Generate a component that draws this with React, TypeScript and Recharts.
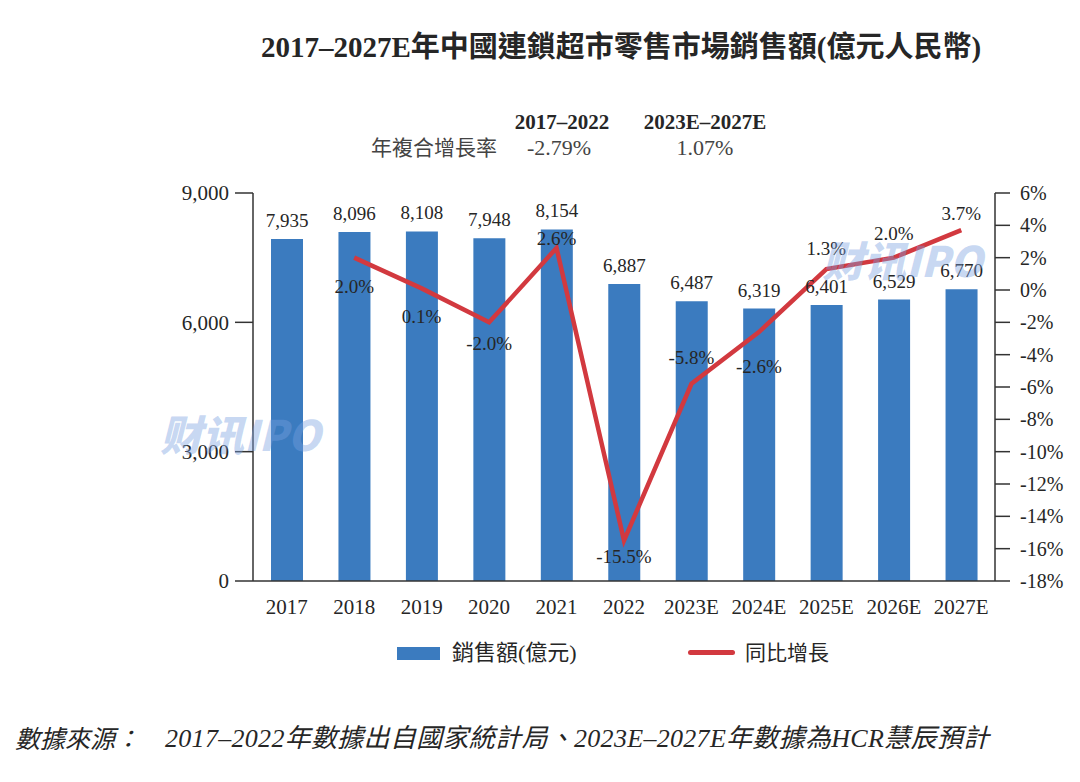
import React from 'react';
import { ComposedChart, Bar, Line, XAxis, YAxis, LabelList } from 'recharts';

const categories = ['2017', '2018', '2019', '2020', '2021', '2022', '2023E', '2024E', '2025E', '2026E', '2027E'];
const sales = [7935, 8096, 8108, 7948, 8154, 6887, 6487, 6319, 6401, 6529, 6770];
const growth: (number | null)[] = [null, 2.0, 0.1, -2.0, 2.6, -15.5, -5.8, -2.6, 1.3, 2.0, 3.7];
const leftTicks = [0, 3000, 6000, 9000];
const rightTicks = [-18, -16, -14, -12, -10, -8, -6, -4, -2, 0, 2, 4, 6];

// label offsets (px) of the growth labels relative to their points (style only)
const growthLabelDy = [0, 29, 28, 21, -9, 16, -26, 34, -20, -24, -17];

const title = '2017–2027E年中國連鎖超市零售市場銷售額(億元人民幣)';
const cagrPeriods = ['2017–2022', '2023E–2027E'];
const cagrLabel = '年複合增長率';
const cagrValues = ['-2.79%', '1.07%'];
const legendBar = '銷售額(億元)';
const legendLine = '同比增長';
const sourceLabel = '數據來源：';
const sourceText = '2017–2022年數據出自國家統計局、2023E–2027E年數據為HCR慧辰預計';
const watermark = '财讯IPO';

const data = categories.map((c, i) => ({ year: c, sales: sales[i], growth: growth[i] }));

const SERIF = "'Liberation Serif', 'Noto Sans CJK TC', serif";
const BAR_COLOR = '#3b7bbf';
const LINE_COLOR = '#d2393f';
const TEXT_COLOR = '#262626';
const AXIS_COLOR = '#333333';

const Abs: React.FC<{ x: number; y: number; size: number; anchor?: 'start' | 'middle'; bold?: boolean; italic?: boolean; children: React.ReactNode; style?: React.CSSProperties }> = ({ x, y, size, anchor = 'start', bold, italic, children, style }) => (
  <div
    style={{
      position: 'absolute',
      left: x,
      top: y - size / 2,
      height: size,
      lineHeight: `${size}px`,
      fontSize: size,
      fontFamily: SERIF,
      fontWeight: bold ? 700 : 400,
      fontStyle: italic ? 'italic' : 'normal',
      color: TEXT_COLOR,
      whiteSpace: 'nowrap',
      transform: anchor === 'middle' ? 'translateX(-50%)' : undefined,
      ...style,
    }}
  >
    {children}
  </div>
);

const GrowthLabel = (props: any) => {
  const { x, y, value, index } = props;
  if (value === null || value === undefined) return null;
  return (
    <text
      x={x}
      y={y + growthLabelDy[index]}
      textAnchor="middle"
      dominantBaseline="central"
      fontFamily={SERIF}
      fontSize={19}
      fill={TEXT_COLOR}
    >
      {`${Number(value).toFixed(1)}%`}
    </text>
  );
};

const wmStyle: React.CSSProperties = {
  position: 'absolute',
  fontFamily: "'Noto Sans CJK SC', sans-serif",
  fontWeight: 900,
  fontStyle: 'italic',
  fontSize: 42,
  color: 'rgba(120,160,225,0.42)',
  pointerEvents: 'none',
  whiteSpace: 'nowrap',
};

export default function App() {
  return (
    <div style={{ position: 'absolute', left: 0, top: 0, width: 1080, height: 782, background: '#fff', overflow: 'hidden' }}>
      <Abs x={621} y={47} size={29} anchor="middle" bold>{title}</Abs>

      <Abs x={562} y={122} size={21} anchor="middle" bold>{cagrPeriods[0]}</Abs>
      <Abs x={705} y={122} size={21} anchor="middle" bold>{cagrPeriods[1]}</Abs>
      <Abs x={434} y={148} size={21} anchor="middle" style={{ color: '#444' }}>{cagrLabel}</Abs>
      <Abs x={559} y={148} size={22} anchor="middle" style={{ color: '#444' }}>{cagrValues[0]}</Abs>
      <Abs x={705} y={148} size={22} anchor="middle" style={{ color: '#444' }}>{cagrValues[1]}</Abs>

      <div style={{ position: 'absolute', left: 0, top: 0 }}>
        <ComposedChart
          width={1080}
          height={782}
          data={data}
          margin={{ top: 193, bottom: 161, left: 183, right: 15 }}
          barCategoryGap="26%"
        >
          <XAxis
            dataKey="year"
            height={40}
            axisLine={{ stroke: AXIS_COLOR, strokeWidth: 1.5 }}
            tickLine={false}
            tickMargin={12}
            interval={0}
            tick={{ fontFamily: SERIF, fontSize: 21, fill: TEXT_COLOR }}
          />
          <YAxis
            yAxisId="left"
            orientation="left"
            width={70}
            domain={[0, 9000]}
            ticks={leftTicks}
            tickFormatter={(v: number) => v.toLocaleString('en-US')}
            axisLine={{ stroke: AXIS_COLOR, strokeWidth: 1.5 }}
            tickLine={{ stroke: AXIS_COLOR, strokeWidth: 1.5 }}
            tickSize={18}
            tickMargin={6}
            tick={{ fontFamily: SERIF, fontSize: 21, fill: TEXT_COLOR }}
          />
          <YAxis
            yAxisId="right"
            orientation="right"
            width={70}
            domain={[-18, 6]}
            ticks={rightTicks}
            tickFormatter={(v: number) => `${v}%`}
            axisLine={{ stroke: AXIS_COLOR, strokeWidth: 1.5 }}
            tickLine={{ stroke: AXIS_COLOR, strokeWidth: 1.5 }}
            tickSize={15}
            tickMargin={10}
            tick={{ fontFamily: SERIF, fontSize: 20, fill: TEXT_COLOR }}
          />
          <Bar yAxisId="left" dataKey="sales" fill={BAR_COLOR} barSize={32} isAnimationActive={false}>
            <LabelList
              dataKey="sales"
              position="top"
              offset={12}
              formatter={(v: any) => Number(v).toLocaleString('en-US')}
              style={{ fontFamily: SERIF, fontSize: 19, fill: TEXT_COLOR }}
            />
          </Bar>
          <Line
            yAxisId="right"
            dataKey="growth"
            stroke={LINE_COLOR}
            strokeWidth={4.5}
            dot={false}
            activeDot={false}
            connectNulls={false}
            isAnimationActive={false}
          >
            <LabelList dataKey="growth" content={GrowthLabel} />
          </Line>
        </ComposedChart>
      </div>

      <div style={{ ...wmStyle, left: 160, top: 402 }}>{watermark}</div>
      <div style={{ ...wmStyle, left: 822, top: 228 }}>{watermark}</div>

      <div style={{ position: 'absolute', left: 397, top: 647, width: 43, height: 13, background: BAR_COLOR }} />
      <Abs x={452} y={653} size={22}>{legendBar}</Abs>
      <div style={{ position: 'absolute', left: 688, top: 650, width: 47, height: 5, borderRadius: 3, background: LINE_COLOR }} />
      <Abs x={745} y={653} size={21}>{legendLine}</Abs>

      <Abs x={15} y={739} size={25} italic>{sourceLabel}</Abs>
      <Abs x={165} y={739} size={26} italic style={{ letterSpacing: 0.3 }}>{sourceText}</Abs>
    </div>
  );
}
